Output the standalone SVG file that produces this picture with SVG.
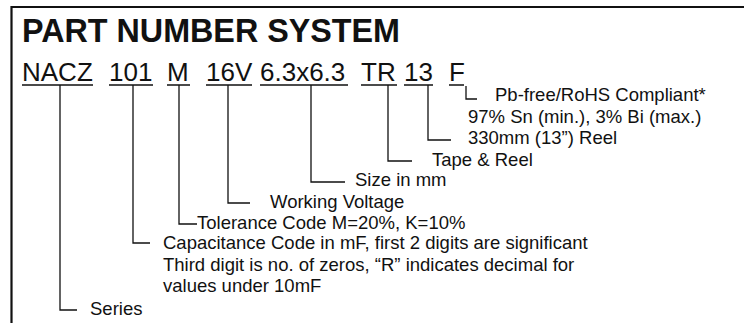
<svg xmlns="http://www.w3.org/2000/svg" width="744" height="323" viewBox="0 0 744 323">
<style>
text{font-family:"Liberation Sans",Arial,Helvetica,sans-serif;fill:#111}
.t{font-size:32.3px;font-weight:bold}
.c{font-size:26px}
.d{font-size:18.5px}
.ln{stroke:#111;stroke-width:1.3;fill:none}
.fr{stroke:#111;stroke-width:2.2;fill:none}
</style>
<rect width="744" height="323" fill="#fff"/>
<path class="fr" d="M11.5,323 V7 H744"/>
<text class="t" x="22" y="42">PART NUMBER SYSTEM</text>
<g id="series"><text class="c" x="22" y="81">NACZ</text><text class="d" x="90" y="315">Series</text></g>
<g id="capacitance"><text class="c" x="109" y="81">101</text>
<text class="d" x="163" y="249">Capacitance Code in mF, first 2 digits are significant</text>
<text class="d" x="163" y="271">Third digit is no. of zeros, “R” indicates decimal for</text>
<text class="d" x="163" y="292">values under 10mF</text></g>
<g id="tolerance"><text class="c" x="167" y="81">M</text><text class="d" x="197" y="229">Tolerance Code M=20%, K=10%</text></g>
<g id="voltage"><text class="c" x="206" y="81">16V</text><text class="d" x="270" y="208">Working Voltage</text></g>
<g id="size"><text class="c" x="260" y="81">6.3x6.3</text><text class="d" x="355" y="186">Size in mm</text></g>
<g id="tape"><text class="c" x="361" y="81">TR</text><text class="d" x="432" y="166">Tape &amp; Reel</text></g>
<g id="reel"><text class="c" x="404" y="81">13</text><text class="d" x="468" y="144">330mm (13”) Reel</text></g>
<g id="rohs"><text class="c" x="449" y="81">F</text><text class="d" x="495" y="101">Pb-free/RoHS Compliant*</text><text class="d" x="468" y="123">97% Sn (min.), 3% Bi (max.)</text></g>
<g id="connectors">
<path class="ln" d="M22,85H93 M109,85H153 M167,85H190 M206,85H252 M260,85H348 M361,85H397 M404,85H433 M449,85H464"/>
<path class="ln" d="M60,85V310H77"/>
<path class="ln" d="M133,85V243H150"/>
<path class="ln" d="M179,85V224H197"/>
<path class="ln" d="M228,85V203H250"/>
<path class="ln" d="M311,85V182H345"/>
<path class="ln" d="M388,85V161H412"/>
<path class="ln" d="M428,85V140H451"/>
<path class="ln" d="M466,86V99H477"/>
</g>
</svg>
